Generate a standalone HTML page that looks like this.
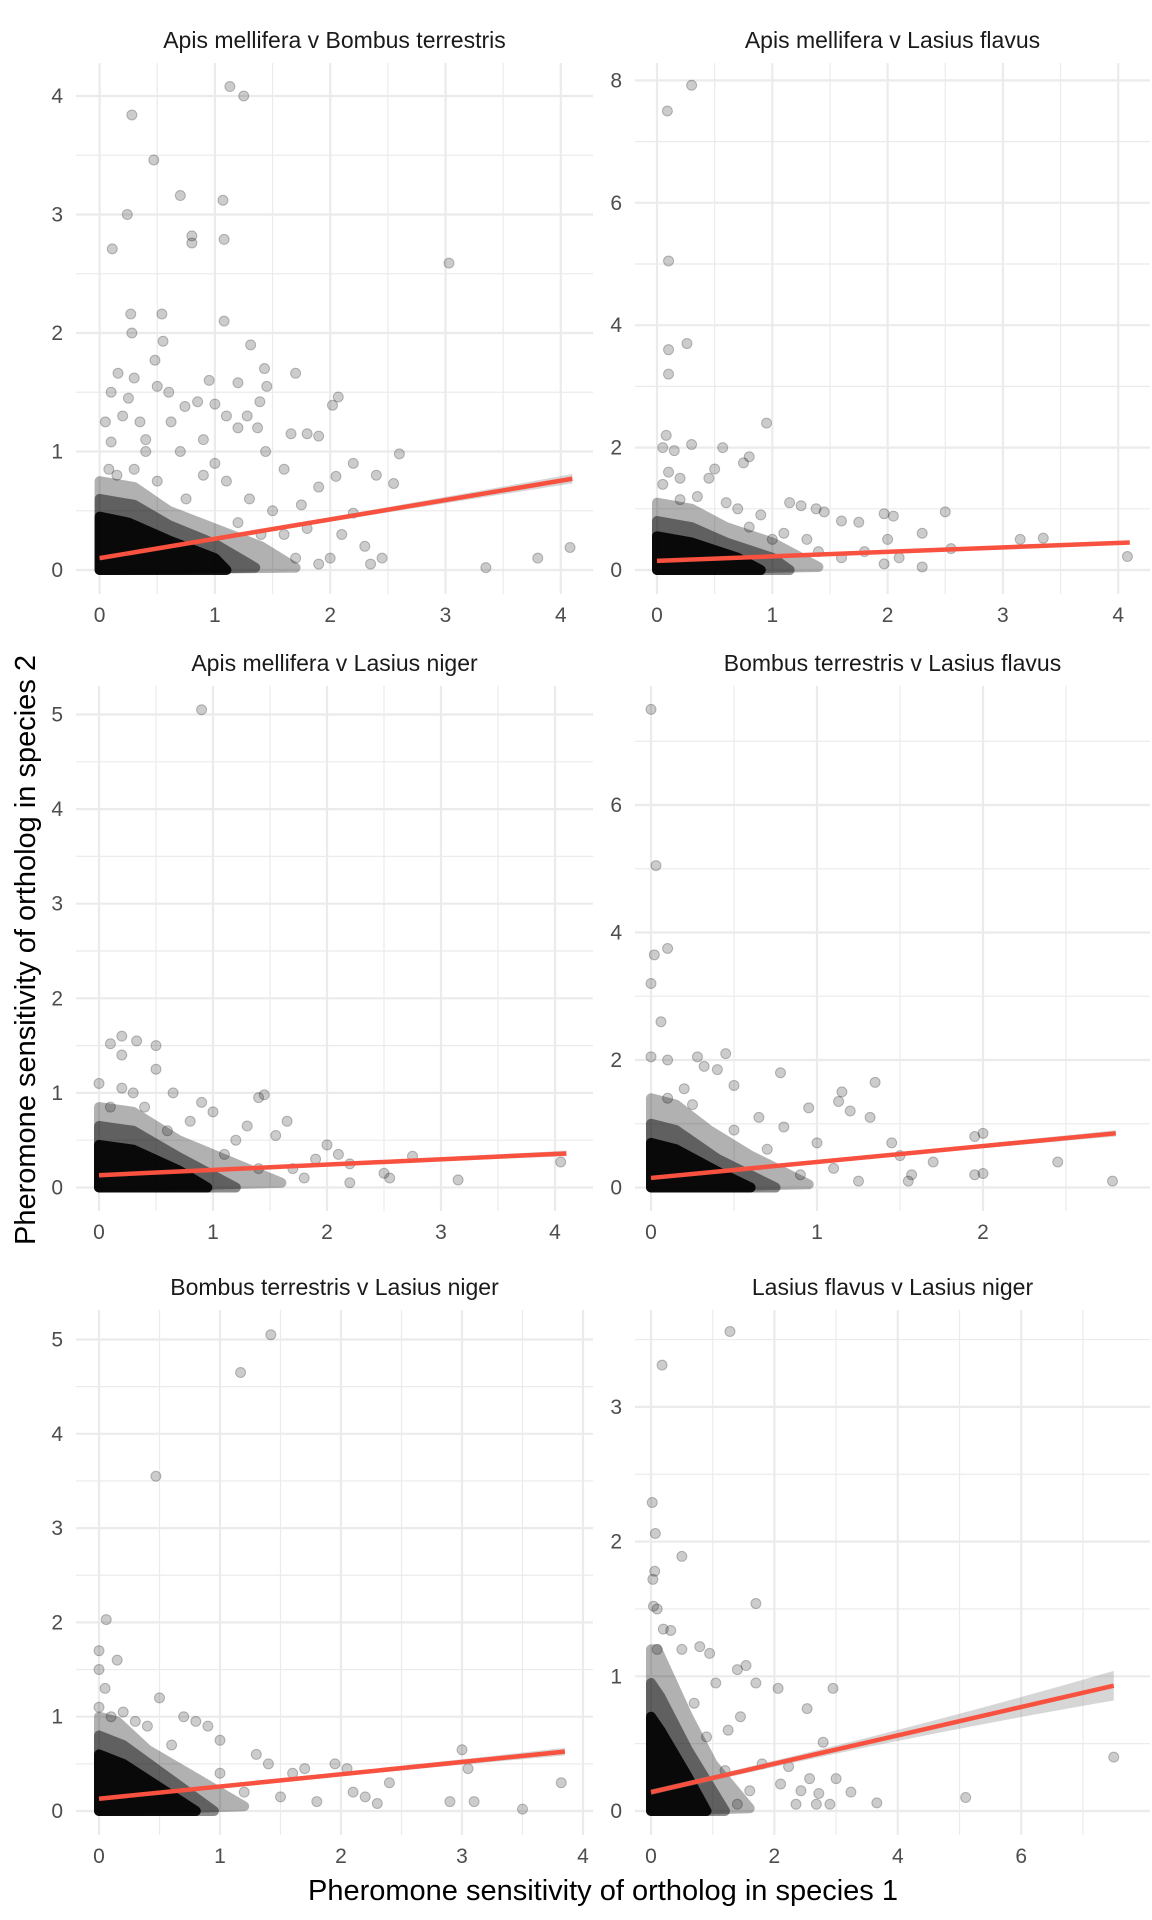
<!DOCTYPE html>
<html><head><meta charset="utf-8">
<style>
html,body{margin:0;padding:0;background:#fff;}
svg{display:block;font-family:"Liberation Sans",Arial,sans-serif;}
</style></head>
<body>
<svg id="chart" width="1152" height="1920" viewBox="0 0 1152 1920" xmlns="http://www.w3.org/2000/svg">
<rect width="1152" height="1920" fill="#fff"/>
<text x="603" y="1900" font-size="29" text-anchor="middle" fill="#000">Pheromone sensitivity of ortholog in species 1</text>
<text transform="translate(35,950) rotate(-90)" font-size="29" text-anchor="middle" fill="#000">Pheromone sensitivity of ortholog in species 2</text>
</svg>
<script>
// ---- data ----
const panelTitles = ["Apis mellifera v Bombus terrestris","Apis mellifera v Lasius flavus","Apis mellifera v Lasius niger","Bombus terrestris v Lasius flavus","Bombus terrestris v Lasius niger","Lasius flavus v Lasius niger"];
const xTicks = [[0,1,2,3,4],[0,1,2,3,4],[0,1,2,3,4],[0,1,2],[0,1,2,3,4],[0,2,4,6]];
const yTicks = [[0,1,2,3,4],[0,2,4,6,8],[0,1,2,3,4,5],[0,2,4,6],[0,1,2,3,4,5],[0,1,2,3]];
const xMinorStep = [0.5,0.5,0.5,0.5,0.5,1];
const yMinorStep = [0.5,1,0.5,1,0.5,0.5];
const xTickLabels = [["0","1","2","3","4"],["0","1","2","3","4"],["0","1","2","3","4"],["0","1","2"],["0","1","2","3","4"],["0","2","4","6"]];
const fitStart = [[0,0.10],[0,0.15],[0,0.13],[0,0.15],[0,0.13],[0,0.14]];
const fitEnd = [[4.1,0.77],[4.1,0.45],[4.1,0.36],[2.8,0.85],[3.85,0.63],[7.5,0.93]];
const fitSeEnd = [0.04,0.03,0.03,0.05,0.04,0.11];
const fitSeStart = [0.015,0.012,0.012,0.02,0.015,0.02];
const coreHull = [
 [[0,0],[0,0.75],[0.3,0.7],[0.6,0.5],[1.0,0.35],[1.4,0.2],[1.7,0.02]],
 [[0,0],[0,1.1],[0.3,1.0],[0.6,0.7],[1.0,0.45],[1.4,0.05]],
 [[0,0],[0,0.85],[0.3,0.8],[0.7,0.5],[1.1,0.3],[1.6,0.05]],
 [[0,0],[0,1.4],[0.15,1.3],[0.35,0.9],[0.6,0.5],[0.95,0.05]],
 [[0,0],[0,1.0],[0.15,0.95],[0.4,0.65],[0.8,0.35],[1.2,0.05]],
 [[0,0],[0,1.2],[0.1,1.2],[0.6,0.7],[1.0,0.35],[1.6,0.02]]
];
const midHull = [
 [[0,0],[0,0.6],[0.3,0.55],[0.6,0.38],[1.0,0.22],[1.35,0.02]],
 [[0,0],[0,0.8],[0.3,0.7],[0.6,0.45],[1.0,0.2],[1.15,0]],
 [[0,0],[0,0.65],[0.3,0.6],[0.7,0.32],[1.2,0]],
 [[0,0],[0,1.0],[0.15,0.9],[0.4,0.45],[0.75,0]],
 [[0,0],[0,0.8],[0.2,0.7],[0.5,0.42],[0.95,0]],
 [[0,0],[0,0.95],[0.15,0.85],[0.6,0.45],[1.2,0]]
];
const innerHull = [
 [[0,0],[0,0.45],[0.25,0.4],[0.6,0.25],[1.0,0.1],[1.1,0]],
 [[0,0],[0,0.55],[0.3,0.45],[0.7,0.2],[0.9,0]],
 [[0,0],[0,0.45],[0.3,0.4],[0.7,0.18],[0.95,0]],
 [[0,0],[0,0.7],[0.15,0.6],[0.4,0.25],[0.6,0]],
 [[0,0],[0,0.6],[0.2,0.5],[0.5,0.25],[0.8,0]],
 [[0,0],[0,0.7],[0.15,0.6],[0.6,0.25],[0.9,0]]
];
const pts1 = [[1.13,4.08],[1.25,4.0],[0.28,3.84],[0.47,3.46],[0.7,3.16],[1.07,3.12],[0.24,3.0],[0.8,2.82],[0.8,2.76],[1.08,2.79],[0.11,2.71],[3.03,2.59],[0.27,2.16],[0.54,2.16],[0.28,2.0],[1.08,2.1],[0.55,1.93],[1.31,1.9],[0.48,1.77],[1.43,1.7],[1.7,1.66],[0.16,1.66],[0.3,1.62],[0.95,1.6],[1.2,1.58],[0.5,1.55],[0.1,1.5],[0.6,1.5],[1.45,1.55],[1.39,1.42],[2.07,1.46],[2.02,1.39],[0.85,1.42],[1.0,1.4],[1.28,1.3],[1.8,1.15],[1.9,1.13],[1.66,1.15],[0.74,1.38],[0.62,1.25],[0.35,1.25],[0.2,1.3],[1.1,1.3],[1.2,1.2],[1.37,1.2],[2.6,0.98],[2.2,0.9],[2.4,0.8],[2.55,0.73],[2.05,0.79],[1.44,1.0],[1.6,0.85],[1.9,0.7],[1.75,0.55],[2.2,0.48],[2.1,0.3],[2.3,0.2],[2.0,0.1],[2.35,0.05],[2.45,0.1],[3.35,0.02],[3.8,0.1],[4.08,0.19],[1.5,0.5],[1.6,0.3],[1.3,0.6],[1.0,0.9],[0.9,1.1],[0.7,1.0],[0.4,1.1],[0.1,1.08],[0.08,0.85],[0.9,0.8],[1.1,0.75],[1.8,0.35],[1.7,0.1],[1.9,0.05],[0.15,0.8],[0.3,0.85],[0.5,0.75],[0.75,0.6],[1.2,0.4],[1.4,0.3],[0.05,1.25],[0.25,1.45],[0.4,1.0]];
const pts2 = [[0.3,7.92],[0.09,7.5],[0.1,5.05],[0.1,3.6],[0.26,3.7],[0.1,3.2],[0.95,2.4],[0.08,2.2],[0.05,2.0],[0.3,2.05],[0.57,2.0],[0.15,1.95],[0.8,1.85],[0.75,1.75],[0.5,1.65],[0.1,1.6],[0.2,1.5],[0.45,1.5],[0.05,1.4],[1.15,1.1],[1.25,1.05],[1.38,1.0],[1.45,0.95],[2.5,0.95],[1.97,0.92],[2.05,0.88],[1.6,0.8],[1.75,0.78],[2.3,0.6],[2.0,0.5],[3.15,0.5],[3.35,0.52],[2.55,0.35],[4.08,0.22],[2.1,0.2],[1.97,0.1],[2.3,0.05],[1.4,0.3],[1.6,0.2],[1.8,0.3],[1.3,0.5],[1.1,0.6],[0.9,0.9],[0.7,1.0],[0.35,1.2],[0.6,1.1],[0.2,1.15],[0.8,0.7],[1.0,0.5]];
const pts3 = [[0.9,5.05],[0.2,1.6],[0.1,1.52],[0.33,1.55],[0.2,1.4],[0.5,1.5],[0.5,1.25],[0.0,1.1],[0.2,1.05],[0.3,1.0],[1.4,0.95],[1.45,0.98],[0.65,1.0],[0.9,0.9],[1.0,0.8],[1.65,0.7],[1.3,0.65],[1.55,0.55],[2.0,0.45],[1.9,0.3],[2.1,0.35],[2.75,0.33],[2.5,0.15],[2.55,0.1],[2.2,0.05],[1.8,0.1],[3.15,0.08],[4.05,0.27],[2.2,0.25],[1.2,0.5],[0.8,0.7],[1.7,0.2],[0.1,0.85],[0.4,0.85],[0.6,0.6],[1.1,0.35],[1.4,0.2]];
const pts4 = [[0.0,7.5],[0.03,5.05],[0.1,3.75],[0.02,3.65],[0.0,3.2],[0.06,2.6],[0.0,2.05],[0.1,2.0],[0.28,2.05],[0.45,2.1],[0.32,1.9],[0.4,1.85],[0.78,1.8],[0.5,1.6],[0.2,1.55],[1.15,1.5],[1.13,1.35],[1.2,1.2],[0.95,1.25],[0.65,1.1],[1.35,1.65],[1.32,1.1],[0.8,0.95],[1.0,0.7],[1.45,0.7],[1.5,0.5],[1.57,0.2],[1.55,0.1],[2.0,0.85],[1.95,0.8],[1.95,0.2],[2.0,0.22],[2.45,0.4],[2.78,0.1],[1.7,0.4],[1.1,0.3],[1.25,0.1],[0.9,0.2],[0.1,1.4],[0.25,1.3],[0.5,0.9],[0.7,0.6]];
const pts5 = [[1.42,5.05],[1.17,4.65],[0.47,3.55],[0.06,2.03],[0.0,1.7],[0.15,1.6],[0.0,1.5],[0.05,1.3],[0.5,1.2],[0.0,1.1],[0.2,1.05],[0.4,0.9],[0.7,1.0],[0.8,0.95],[0.9,0.9],[1.0,0.75],[1.3,0.6],[1.4,0.5],[1.6,0.4],[1.7,0.45],[1.95,0.5],[2.05,0.45],[2.1,0.2],[2.2,0.15],[2.4,0.3],[2.3,0.08],[2.9,0.1],[3.0,0.65],[3.05,0.45],[3.1,0.1],[3.5,0.02],[3.82,0.3],[1.5,0.15],[1.8,0.1],[1.0,0.4],[1.2,0.2],[0.3,0.95],[0.6,0.7],[0.1,1.0]];
const pts6 = [[1.28,3.56],[0.18,3.31],[0.02,2.29],[0.07,2.06],[0.5,1.89],[0.06,1.78],[0.03,1.72],[1.7,1.54],[0.04,1.52],[0.1,1.5],[0.32,1.34],[0.5,1.2],[0.79,1.22],[0.95,1.17],[1.54,1.08],[1.4,1.05],[1.7,0.95],[2.06,0.91],[2.95,0.91],[2.53,0.76],[2.79,0.51],[7.5,0.4],[5.1,0.1],[3.66,0.06],[3.24,0.14],[3.0,0.24],[2.72,0.13],[2.9,0.05],[2.68,0.05],[2.57,0.24],[2.43,0.15],[2.35,0.05],[2.23,0.33],[2.1,0.2],[1.8,0.35],[1.45,0.7],[1.25,0.6],[1.05,0.95],[0.2,1.35],[0.1,1.2],[0.7,0.8],[0.9,0.55],[1.2,0.3],[1.6,0.15],[1.4,0.05]];
const allPts = [pts1,pts2,pts3,pts4,pts5,pts6];

// ---- layout (pixels) ----
const panels = [
 {l:76,r:593,t:63,b:594,x0:99.6,xu:115.3,y0:570,yu:118.5,ty:40},
 {l:635,r:1150,t:63,b:594,x0:657,xu:115.3,y0:570,yu:61.2,ty:40},
 {l:76,r:593,t:686,b:1211,x0:99,xu:114,y0:1187.5,yu:94.6,ty:663},
 {l:635,r:1150,t:686,b:1211,x0:651,xu:166,y0:1187.5,yu:63.75,ty:663},
 {l:76,r:593,t:1310,b:1835,x0:99,xu:121,y0:1811,yu:94.3,ty:1287},
 {l:635,r:1150,t:1310,b:1835,x0:651,xu:61.7,y0:1811,yu:134.7,ty:1287}
];
const NS='http://www.w3.org/2000/svg';
const svg=document.getElementById('chart');
function mk(tag,attrs,parent){const e=document.createElementNS(NS,tag);for(const k in attrs)e.setAttribute(k,attrs[k]);(parent||svg).appendChild(e);return e;}

panels.forEach((p,i)=>{
 const sx=v=>p.x0+v*p.xu, sy=v=>p.y0-v*p.yu;
 const g=mk('g',{});
 
 
 const t=mk('text',{x:(p.l+p.r)/2,y:p.ty+8,'font-size':23,'text-anchor':'middle',fill:'#1a1a1a'},g);
 t.textContent=panelTitles[i];
 
 
 const xmax=(p.r-p.x0)/p.xu, ymax=(p.y0-p.t)/p.yu;
 for(let v=xMinorStep[i];v<xmax;v+=2*xMinorStep[i]){mk('line',{x1:sx(v),x2:sx(v),y1:p.t,y2:p.b,stroke:'#ebebeb','stroke-width':1.2},g);}
 for(let v=yMinorStep[i];v<ymax;v+=2*yMinorStep[i]){mk('line',{x1:p.l,x2:p.r,y1:sy(v),y2:sy(v),stroke:'#ebebeb','stroke-width':1.2},g);}
 xTicks[i].forEach((v,j)=>{
  mk('line',{x1:sx(v),x2:sx(v),y1:p.t,y2:p.b,stroke:'#ebebeb','stroke-width':2.2},g);
  const tl=mk('text',{x:sx(v),y:p.b+28,'font-size':21,'text-anchor':'middle',fill:'#4d4d4d'},g);
  tl.textContent=xTickLabels[i][j];
  
  
 });
 yTicks[i].forEach(v=>{
  mk('line',{x1:p.l,x2:p.r,y1:sy(v),y2:sy(v),stroke:'#ebebeb','stroke-width':2.2},g);
  const tl=mk('text',{x:p.l-13,y:sy(v)+7,'font-size':21,'text-anchor':'end',fill:'#4d4d4d'},g);
  tl.textContent=String(v);
  
  
 });
 const hulls=[[coreHull[i],0.3],[midHull[i],0.45],[innerHull[i],0.9]];
 hulls.forEach(h=>{
  const hg=mk('g',{opacity:h[1]},g);
  
  
  mk('polygon',{points:h[0].map(q=>sx(q[0])+','+sy(q[1])).join(' '),fill:'#000',stroke:'#000','stroke-width':10,'stroke-linejoin':'round'},hg);
 });
 allPts[i].forEach(q=>{
  const c=mk('circle',{cx:sx(q[0]),cy:sy(q[1]),r:5,fill:'#000','fill-opacity':0.2,stroke:'#000','stroke-opacity':0.25,'stroke-width':1},g);
  
  
 });
 const a=fitStart[i], b=fitEnd[i];
 const x1=(a[0]+b[0])*0.1;
 const yAt=x=>a[1]+(b[1]-a[1])*(x-a[0])/(b[0]-a[0]);
 const seAt=x=>{const f=(x-x1)/(b[0]-x1);return fitSeStart[i]+(fitSeEnd[i]-fitSeStart[i])*Math.max(0,f)*Math.max(0,f);};
 const up=[],lo=[];
 for(let k=0;k<=20;k++){const x=a[0]+(b[0]-a[0])*k/20;up.push(sx(x)+','+sy(yAt(x)+seAt(x)));lo.unshift(sx(x)+','+sy(yAt(x)-seAt(x)));}
 const band=mk('polygon',{points:up.concat(lo).join(' '),fill:'#999','fill-opacity':0.4},g);
 
 
 const ln=mk('line',{x1:sx(a[0]),y1:sy(a[1]),x2:sx(b[0]),y2:sy(b[1]),stroke:'#f8513f','stroke-width':4.5},g);
 
 
});
</script>
</body></html>
